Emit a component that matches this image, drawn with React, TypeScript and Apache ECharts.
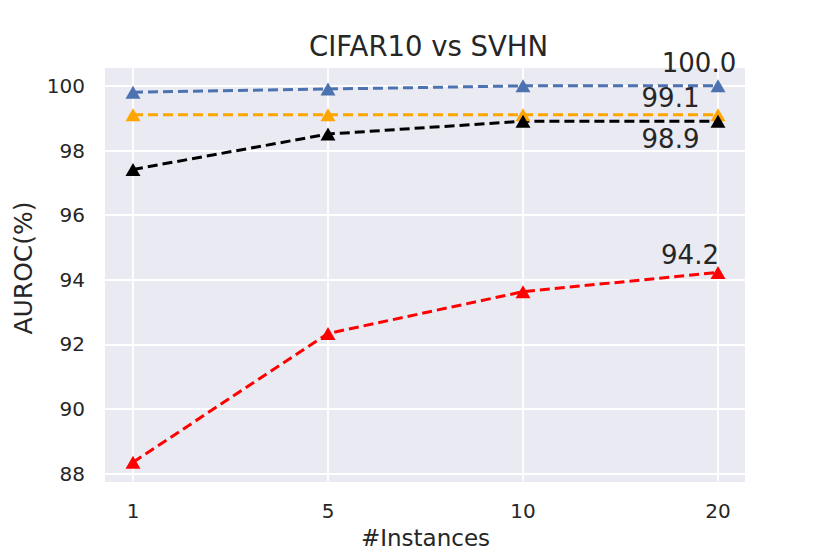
import React, { useEffect, useRef } from "react";
import * as echarts from "echarts";

const categories = ["1", "5", "10", "20"];
const ourMethod = [99.8, 99.9, 100.0, 100.0];
const orangeMethod = [99.1, 99.1, 99.1, 99.1];
const blackMethod = [97.4, 98.5, 98.9, 98.9];
const redMethod = [88.3, 92.3, 93.6, 94.2];
const yMin = 87.715;
const yMax = 100.585;

const FONT = "DejaVu Sans";
const TXT = "#262626";

function lastLabel(values: number[], offset: number[]) {
  return values.map((v, i) =>
    i === values.length - 1
      ? {
          value: v,
          label: {
            show: true,
            position: "inside",
            offset,
            formatter: v.toFixed(1),
            fontSize: 26,
            fontFamily: FONT,
            color: TXT,
          },
        }
      : v
  );
}

export default function App() {
  const ref = useRef<HTMLDivElement>(null);
  useEffect(() => {
    document.body.style.margin = "0";
    const chart = echarts.init(ref.current!, null, { renderer: "svg" });
    const mk = (name: string, color: string, data: any[]) => ({
      name,
      type: "line",
      xAxisIndex: 1,
      yAxisIndex: 1,
      data,
      symbol: "triangle",
      symbolSize: [15, 13],
      itemStyle: { color },
      lineStyle: { color, width: 3, type: [10, 5] },
      emphasis: { disabled: true },
    });
    chart.setOption({
      animation: false,
      backgroundColor: "#ffffff",
      title: {
        text: "CIFAR10 vs SVHN",
        left: 304,
        top: 27,
        textStyle: { fontFamily: FONT, fontSize: 27.5, fontWeight: "normal", color: TXT },
      },
      grid: [
        { left: 105, right: 85, top: 67, bottom: 71, show: true, backgroundColor: "#EAEAF2", borderWidth: 0 },
        { left: 133, right: 112, top: 67, bottom: 71 },
      ],
      xAxis: [
        { type: "value", gridIndex: 0, show: false, min: 0, max: 1 },
        {
          type: "category",
          gridIndex: 1,
          data: categories,
          boundaryGap: false,
          axisLine: { show: false },
          axisTick: { show: false },
          axisLabel: { fontFamily: FONT, fontSize: 20, color: TXT, margin: 20 },
          splitLine: { show: true, lineStyle: { color: "#ffffff", width: 1.8 } },
          name: "#Instances",
          nameLocation: "middle",
          nameGap: 45,
          nameTextStyle: { fontFamily: FONT, fontSize: 23, color: TXT },
        },
      ],
      yAxis: [
        {
          type: "value",
          gridIndex: 0,
          min: yMin,
          max: yMax,
          splitNumber: 6,
          axisLine: { show: false },
          axisTick: { show: false },
          axisLabel: {
            fontFamily: FONT,
            fontSize: 20,
            color: TXT,
            margin: 20,
            showMinLabel: false,
            showMaxLabel: false,
            formatter: (v: number) => (Math.abs(v - Math.round(v)) < 1e-6 ? String(Math.round(v)) : ""),
          },
          splitLine: { show: true, lineStyle: { color: "#ffffff", width: 1.8 } },
          name: "AUROC(%)",
          nameLocation: "middle",
          nameGap: 66,
          nameTextStyle: { fontFamily: FONT, fontSize: 25, color: TXT, padding: [0, 0, 0, 14] },
        },
        { type: "value", gridIndex: 1, min: yMin, max: yMax, show: false, splitLine: { show: false } },
      ],
      series: [
        mk("red", "#FF0000", lastLabel(redMethod, [-28, -17.5])),
        mk("orange", "#FFA500", lastLabel(orangeMethod, [-47.5, -16.5])),
        mk("black", "#000000", lastLabel(blackMethod, [-47.5, 18])),
        mk("blue", "#4C72B0", lastLabel(ourMethod, [-19, -22.5])),
      ],
    });
    return () => chart.dispose();
  }, []);
  return <div ref={ref} style={{ width: 830, height: 554 }} />;
}
